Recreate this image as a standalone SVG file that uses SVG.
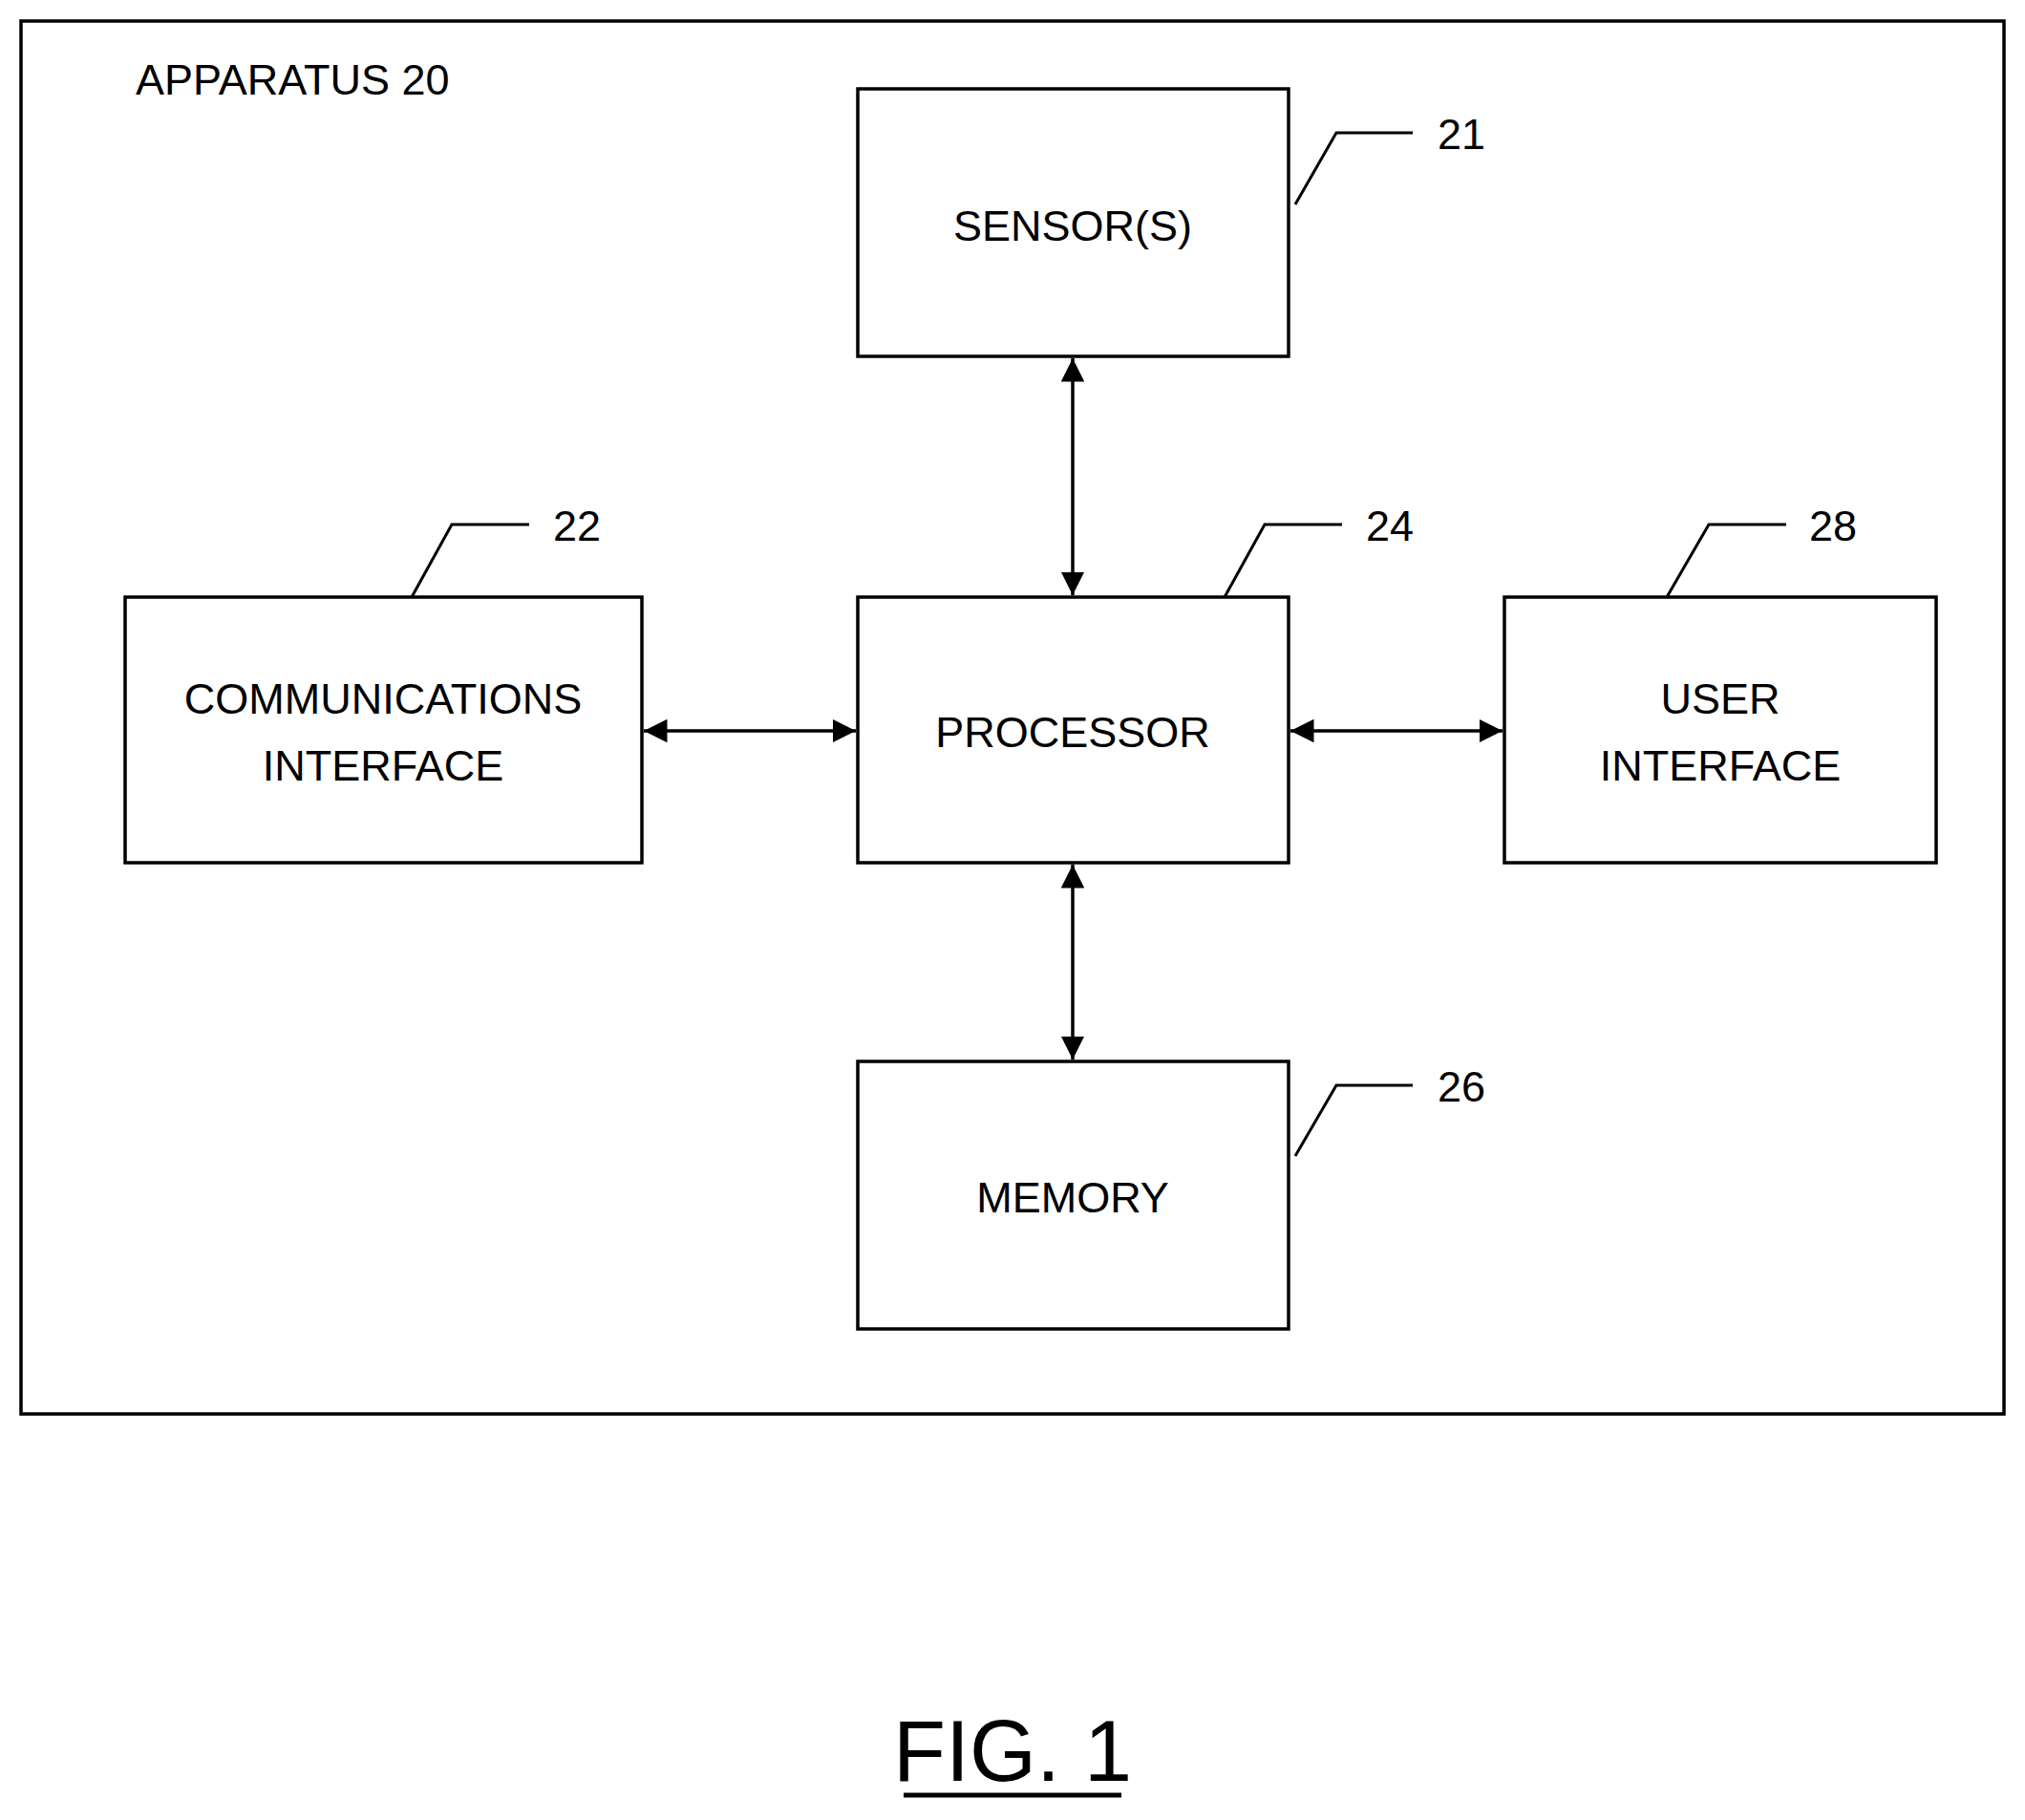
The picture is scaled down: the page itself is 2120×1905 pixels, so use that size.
<svg xmlns="http://www.w3.org/2000/svg" width="2120" height="1905" viewBox="0 0 2120 1905">
<style>
.b{fill:#fff;stroke:#000;stroke-width:3.5}
.t{font-family:"Liberation Sans",Arial,sans-serif;font-size:45px;fill:#000;text-anchor:middle}
.n{font-family:"Liberation Sans",Arial,sans-serif;font-size:45px;fill:#000}
.l{fill:none;stroke:#000;stroke-width:3}
.c{stroke:#000;stroke-width:3.5;marker-start:url(#a);marker-end:url(#a)}
</style>
<defs><marker id="a" viewBox="0 0 10 10" refX="10" refY="5" markerWidth="7" markerHeight="7" orient="auto-start-reverse" markerUnits="strokeWidth"><path d="M0,0L10,5L0,10z"/></marker></defs>
<rect width="2120" height="1905" fill="#fff"/>
<g id="apparatus"><rect x="22" y="22" width="2076" height="1458" class="b"/><text x="142" y="99" class="n">APPARATUS 20</text></g>
<g id="sensor"><rect x="898" y="93" width="451" height="280" class="b"/><text x="1123" y="252" class="t">SENSOR(S)</text><path d="M1356,214L1399,139H1479" class="l"/><text x="1505" y="156" class="n">21</text></g>
<g id="comm"><rect x="131" y="625" width="541" height="278" class="b"/><text x="401" y="747" class="t">COMMUNICATIONS</text><text x="401" y="817" class="t">INTERFACE</text><path d="M431,625L473,549H554" class="l"/><text x="579" y="566" class="n">22</text></g>
<g id="processor"><rect x="898" y="625" width="451" height="278" class="b"/><text x="1123" y="782" class="t">PROCESSOR</text><path d="M1282,625L1324,549H1405" class="l"/><text x="1430" y="566" class="n">24</text></g>
<g id="user"><rect x="1575" y="625" width="452" height="278" class="b"/><text x="1801" y="747" class="t">USER</text><text x="1801" y="817" class="t">INTERFACE</text><path d="M1745,625L1789,549H1870" class="l"/><text x="1894" y="566" class="n">28</text></g>
<g id="memory"><rect x="898" y="1111" width="451" height="280" class="b"/><text x="1123" y="1269" class="t">MEMORY</text><path d="M1356,1210L1399,1136H1479" class="l"/><text x="1505" y="1153" class="n">26</text></g>
<g id="connectors">
<line x1="1123" y1="375" x2="1123" y2="623" class="c"/>
<line x1="1123" y1="905" x2="1123" y2="1109" class="c"/>
<line x1="674" y1="765" x2="896" y2="765" class="c"/>
<line x1="1351" y1="765" x2="1573" y2="765" class="c"/>
</g>
<g id="caption"><text x="1060" y="1864" class="t" style="font-size:90px">FIG. 1</text><line x1="946" y1="1879" x2="1174" y2="1879" stroke="#000" stroke-width="5"/></g>
</svg>
